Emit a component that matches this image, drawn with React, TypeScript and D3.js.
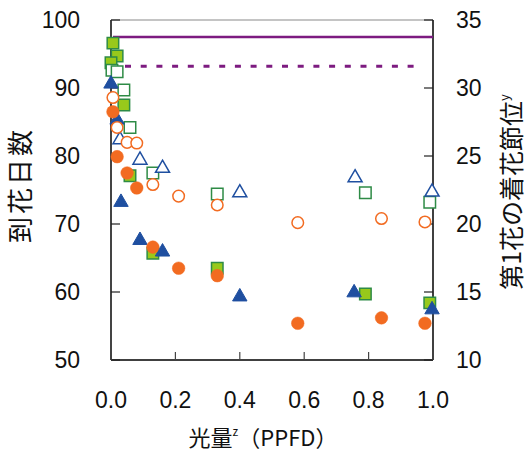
import React from 'react';
import * as d3 from 'd3';

// x: relative light amount (PPFD), left axis: days to flowering, right axis: node of 1st flower
const sqFilledX = [0.006, 0.019, 0.0, 0.04, 0.059, 0.13, 0.33, 0.79, 0.99];
const sqFilledY = [96.6, 94.7, 93.7, 87.5, 77.1, 65.7, 63.5, 59.7, 58.4];
const sqOpenX = [0.003, 0.019, 0.04, 0.059, 0.13, 0.33, 0.79, 0.99];
const sqOpenY = [31.3, 31.2, 29.85, 27.1, 23.75, 22.2, 22.3, 21.6];

const triFilledX = [0.0, 0.019, 0.031, 0.09, 0.16, 0.40, 0.755, 0.997];
const triFilledY = [90.6, 85.3, 73.2, 67.6, 65.9, 59.3, 59.9, 57.4];
const triOpenX = [0.028, 0.09, 0.16, 0.40, 0.758, 0.997];
const triOpenY = [26.2, 24.7, 24.1, 22.3, 23.4, 22.35];

const cirFilledX = [0.006, 0.019, 0.05, 0.08, 0.13, 0.21, 0.33, 0.58, 0.84, 0.975];
const cirFilledY = [86.5, 79.9, 77.5, 75.3, 66.6, 63.5, 62.4, 55.4, 56.2, 55.4];
const cirOpenX = [0.006, 0.019, 0.05, 0.08, 0.13, 0.21, 0.33, 0.58, 0.84, 0.975];
const cirOpenY = [29.3, 27.1, 26.0, 25.95, 22.9, 22.05, 21.4, 20.1, 20.4, 20.15];

// reference lines (left axis)
const refSolid = 97.5;
const refDashed = 93.2;

const xTicks = [0, 0.2, 0.4, 0.6, 0.8, 1.0];
const leftTicks = [50, 60, 70, 80, 90, 100];
const rightTicks = [10, 15, 20, 25, 30, 35];

const font = "'Liberation Sans', Arial, sans-serif";
const cjkFont = "'Noto Sans CJK JP', 'Noto Sans', sans-serif";

const drawChart = (ref) => {
    const margin = { top: 20, left: 111, right: 95, bottom: 93 };
    const W = 528, H = 453;
    const width = W - margin.left - margin.right;
    const height = H - margin.top - margin.bottom;

    const svg0 = d3.select(ref.current);
    svg0.selectAll('*').remove();
    svg0.attr('width', W).attr('height', H);
    const svg = svg0.append('g')
        .attr('transform', 'translate(' + margin.left + ',' + margin.top + ')');

    const x = d3.scaleLinear().domain([0, 1]).range([0, width]);
    const yL = d3.scaleLinear().domain([50, 100]).range([height, 0]);
    const yR = d3.scaleLinear().domain([10, 35]).range([height, 0]);

    // frame
    svg.append('line').attr('x1', 0).attr('x2', width).attr('y1', 0).attr('y2', 0)
        .attr('stroke', '#b0b0b0').attr('stroke-width', 1.5);
    svg.append('line').attr('x1', 0).attr('x2', 0).attr('y1', 0).attr('y2', height)
        .attr('stroke', '#444').attr('stroke-width', 2);
    svg.append('line').attr('x1', width).attr('x2', width).attr('y1', 0).attr('y2', height)
        .attr('stroke', '#000').attr('stroke-width', 1.5);
    svg.append('line').attr('x1', 0).attr('x2', width).attr('y1', height).attr('y2', height)
        .attr('stroke', '#000').attr('stroke-width', 1.5);

    // ticks (inward)
    leftTicks.forEach(t => {
        svg.append('line').attr('x1', 0).attr('x2', 9).attr('y1', yL(t)).attr('y2', yL(t))
            .attr('stroke', '#222').attr('stroke-width', 1.2);
        svg.append('text').attr('x', -31).attr('y', yL(t)).attr('dy', '0.36em')
            .attr('text-anchor', 'end').attr('font-family', font).attr('font-size', 23)
            .attr('fill', '#111').text(t);
    });
    rightTicks.forEach(t => {
        svg.append('line').attr('x1', width - 9).attr('x2', width).attr('y1', yR(t)).attr('y2', yR(t))
            .attr('stroke', '#222').attr('stroke-width', 1.2);
        svg.append('text').attr('x', width + 23).attr('y', yR(t)).attr('dy', '0.36em')
            .attr('text-anchor', 'start').attr('font-family', font).attr('font-size', 23)
            .attr('fill', '#111').text(t);
    });
    xTicks.forEach(t => {
        svg.append('line').attr('x1', x(t)).attr('x2', x(t)).attr('y1', height - 8).attr('y2', height)
            .attr('stroke', '#444').attr('stroke-width', 1.2);
        svg.append('text').attr('x', x(t)).attr('y', height + 40).attr('dy', '0.36em')
            .attr('text-anchor', 'middle').attr('font-family', font).attr('font-size', 23)
            .attr('fill', '#111').text(d3.format('.1f')(t));
    });

    // reference lines
    svg.append('line').attr('x1', 2).attr('x2', width).attr('y1', yL(refSolid)).attr('y2', yL(refSolid))
        .attr('stroke', '#7d1b80').attr('stroke-width', 2.5);
    svg.append('line').attr('x1', 14).attr('x2', width - 10).attr('y1', yL(refDashed)).attr('y2', yL(refDashed))
        .attr('stroke', '#7d1b80').attr('stroke-width', 3).attr('stroke-dasharray', '6,9.7');

    const zip = (xs, ys) => xs.map((v, i) => [v, ys[i]]);
    const green = '#2e8b46';
    const blue = '#1f4fa0';
    const orange = '#f26b21';

    const plot = (pts, yScale, type, size, fill, stroke, sw) => {
        svg.selectAll(null)
            .data(pts)
            .enter().append('path')
            .attr('d', d3.symbol().type(type).size(size)())
            .attr('transform', d => 'translate(' + x(d[0]) + ',' + yScale(d[1]) + ')')
            .attr('fill', fill)
            .attr('stroke', stroke)
            .attr('stroke-width', sw);
    };

    plot(zip(sqFilledX, sqFilledY), yL, d3.symbolSquare, 132, '#98c91b', green, 1.5);
    plot(zip(sqOpenX, sqOpenY), yR, d3.symbolSquare, 132, '#fff', green, 1.5);
    plot(zip(triFilledX, triFilledY), yL, d3.symbolTriangle, 90, blue, blue, 1);
    plot(zip(triOpenX, triOpenY), yR, d3.symbolTriangle, 85, '#fff', blue, 1.5);
    plot(zip(cirFilledX, cirFilledY), yL, d3.symbolCircle, 125, orange, orange, 0.5);
    plot(zip(cirOpenX, cirOpenY), yR, d3.symbolCircle, 105, '#fff', orange, 1.5);

    // axis titles
    svg0.append('text')
        .attr('transform', 'translate(21,185) rotate(-90)')
        .attr('text-anchor', 'middle').attr('dy', 9)
        .attr('font-family', cjkFont).attr('font-size', 26).attr('letter-spacing', 3)
        .attr('fill', '#111').text('到花日数');

    const rt = svg0.append('text')
        .attr('transform', 'translate(512,192) rotate(-90)')
        .attr('text-anchor', 'middle')
        .attr('font-family', cjkFont).attr('font-size', 25)
        .attr('fill', '#111');
    rt.append('tspan').attr('dy', 9).text('第1花の着花節位');
    rt.append('tspan').attr('font-size', 13).attr('dy', -12).text('y');

    const xt = svg0.append('text')
        .attr('x', 263).attr('y', 446)
        .attr('text-anchor', 'middle')
        .attr('font-family', cjkFont).attr('font-size', 22)
        .attr('fill', '#111');
    xt.append('tspan').text('光量');
    xt.append('tspan').attr('font-size', 12).attr('dy', -10).text('z');
    xt.append('tspan').attr('dy', 10).text('（PPFD）');
};

function App() {
    const ref = React.useRef(null);

    React.useEffect(() => {
        drawChart(ref);
    }, []);

    return (
        <div style={{ position: 'absolute', left: 0, top: 0 }}>
            <svg ref={ref} style={{ display: 'block' }} />
        </div>
    );
}

export default App;
